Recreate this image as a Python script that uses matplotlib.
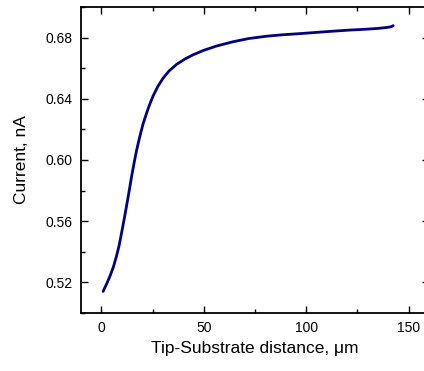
import matplotlib
matplotlib.use("Agg")
import matplotlib.pyplot as plt
from matplotlib.ticker import MultipleLocator, FormatStrFormatter

# Data
distance_um = [0.8, 2.5, 4.1, 5.8, 7.3, 8.6, 9.8, 11.0, 12.2, 13.5, 14.7, 16.0,
               17.1, 18.7, 20.3, 22.0, 23.6, 25.2, 27.5, 30.1, 33.0, 36.7, 40.5,
               44.8, 50.0, 56.2, 64.3, 72.0, 80.6, 88.0, 96.9, 105.0, 113.2,
               121.0, 129.5, 135.0, 139.3, 141.5, 142.5]
current_nA = [0.5141, 0.5190, 0.5239, 0.5300, 0.5370, 0.5440, 0.5522, 0.5607,
              0.5696, 0.5795, 0.5891, 0.5985, 0.6060, 0.6152, 0.6235, 0.6305,
              0.6365, 0.6418, 0.6480, 0.6535, 0.6582, 0.6625, 0.6658, 0.6688,
              0.6717, 0.6745, 0.6773, 0.6794, 0.6809, 0.6818, 0.6826, 0.6834,
              0.6842, 0.6849, 0.6855, 0.6860, 0.6866, 0.6871, 0.6878]

plt.rcParams['font.family'] = ['Liberation Sans', 'DejaVu Sans']

W, H = 424, 371
fig = plt.figure(figsize=(W / 100, H / 100), dpi=100)
ax = fig.add_axes([81 / W, 1 - 313 / H, (429 - 81) / W, (313 - 7) / H])

ax.plot(distance_um, current_nA, color='#000080', linewidth=2.0,
        solid_capstyle='round', solid_joinstyle='round')

ax.set_xlim(-10, 160)
ax.set_ylim(0.50, 0.70)

ax.xaxis.set_major_locator(MultipleLocator(50))
ax.xaxis.set_minor_locator(MultipleLocator(25))
ax.yaxis.set_major_locator(MultipleLocator(0.04))
ax.yaxis.set_minor_locator(MultipleLocator(0.02))
ax.yaxis.set_major_formatter(FormatStrFormatter('%.2f'))

ax.tick_params(which='both', direction='in', top=True, right=True,
               labelsize=10, colors='black', width=1.0)
ax.tick_params(which='major', length=5, pad=6)
ax.tick_params(which='minor', length=3)

for s in ax.spines.values():
    s.set_linewidth(1.3)

ax.set_xlabel('Tip-Substrate distance, \u03bcm', fontsize=12.5, labelpad=4)
ax.set_ylabel('Current, nA', fontsize=12.5, labelpad=12)

fig.savefig('out.png', dpi=100)
